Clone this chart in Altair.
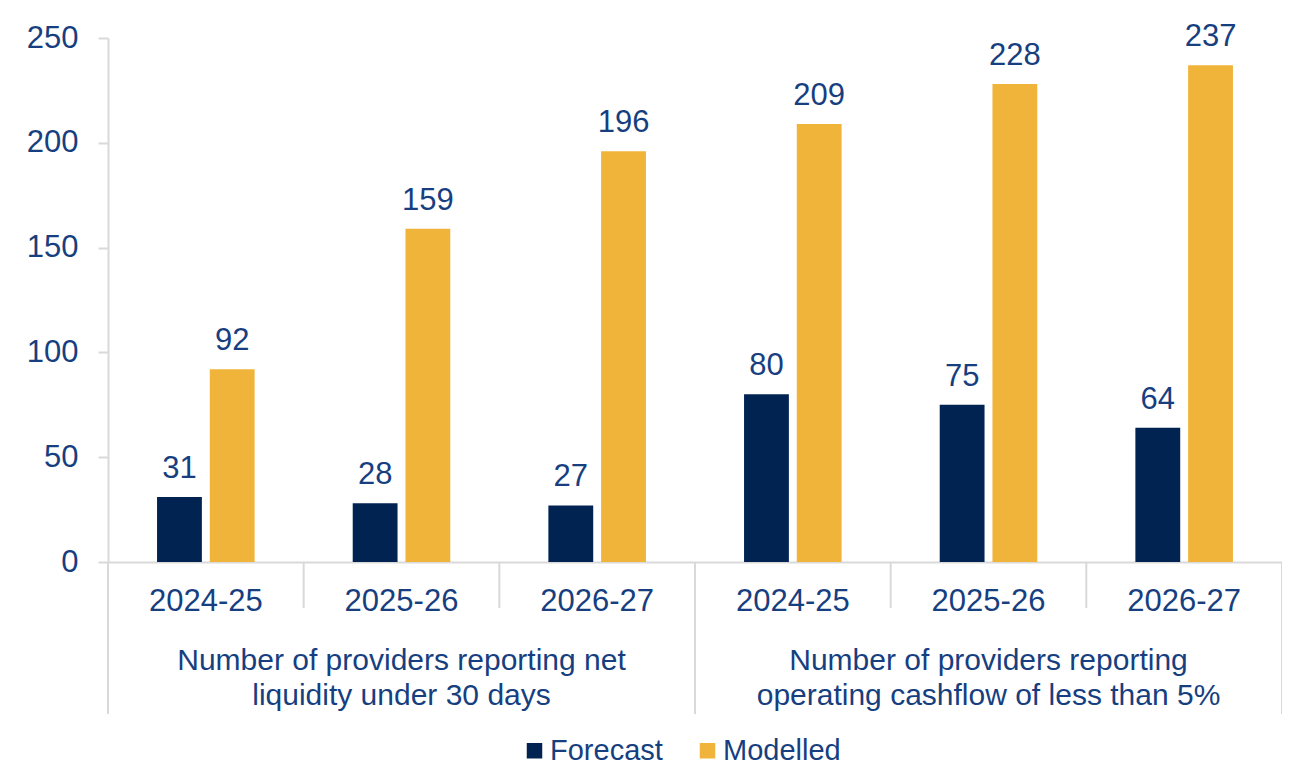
import altair as alt
import pandas as pd

years = ["2024-25", "2025-26", "2026-27", "2024-25", "2025-26", "2026-27"]
groups = ["Number of providers reporting net\nliquidity under 30 days",
          "Number of providers reporting\noperating cashflow of less than 5%"]
group_of_slot = [0, 0, 0, 1, 1, 1]
forecast = [31, 28, 27, 80, 75, 64]
modelled = [92, 159, 196, 209, 228, 237]
series = ["Forecast", "Modelled"]

slots = [f"{i}|{y}" for i, y in enumerate(years)]
rows = []
for i, s in enumerate(slots):
    rows.append({"slot": s, "series": "Forecast", "value": forecast[i]})
    rows.append({"slot": s, "series": "Modelled", "value": modelled[i]})
df = pd.DataFrame(rows)

sep_df = pd.DataFrame({"slot": slots,
                       "long": [1 if i == 0 or group_of_slot[i] != group_of_slot[i - 1] else 0
                                for i in range(len(slots))]})
end_df = pd.DataFrame({"slot": [slots[-1]]})
grp_df = pd.DataFrame({"slot": [slots[1], slots[4]], "label": groups})

TXT = "#173F7F"
GRAY = "#D9D9D9"
FONT = "Liberation Sans"
W, H = 1174, 524

xs = alt.X("slot:N", sort=slots, scale=alt.Scale(paddingInner=0, paddingOuter=0),
           axis=alt.Axis(title=None, labelExpr="split(datum.label,'|')[1]", labelAngle=0,
                         ticks=False, labelPadding=24, labelFontSize=31, labelColor=TXT,
                         labelFont=FONT, domainColor=GRAY, domainWidth=2))

base = alt.Chart(df)
bars = base.mark_bar().encode(
    x=xs,
    xOffset=alt.XOffset("series:N", sort=series,
                        scale=alt.Scale(paddingInner=0.15, paddingOuter=0.93)),
    y=alt.Y("value:Q", scale=alt.Scale(domain=[0, 250], nice=False),
            axis=alt.Axis(title=None, values=[0, 50, 100, 150, 200, 250], grid=False,
                          labelFontSize=31, labelColor=TXT, labelFont=FONT, labelPadding=20,
                          tickColor=GRAY, tickSize=10, tickWidth=2, domainColor=GRAY,
                          domainWidth=2)),
    color=alt.Color("series:N", sort=series,
                    scale=alt.Scale(domain=series, range=["#002352", "#F0B43A"]),
                    legend=alt.Legend(title=None, orient="none", direction="horizontal",
                                      legendX=412, legendY=698, symbolType="square",
                                      symbolSize=240, symbolStrokeWidth=0,
                                      labelFontSize=29, labelColor=TXT, labelFont=FONT,
                                      labelOffset=1, columnPadding=30)),
)
labels = base.mark_text(baseline="alphabetic", dy=-19, fontSize=31, color=TXT,
                        font=FONT).encode(
    x=alt.X("slot:N", sort=slots),
    xOffset=alt.XOffset("series:N", sort=series),
    y="value:Q",
    text="value:Q",
)
short_sep = alt.Chart(sep_df).transform_filter("datum.long == 0").mark_rule(
    color=GRAY, strokeWidth=2).encode(
    x=alt.X("slot:N", sort=slots, bandPosition=0),
    y=alt.value(H), y2=alt.value(H + 46))
long_sep = alt.Chart(sep_df).transform_filter("datum.long == 1").mark_rule(
    color=GRAY, strokeWidth=2).encode(
    x=alt.X("slot:N", sort=slots, bandPosition=0),
    y=alt.value(H), y2=alt.value(H + 152))
end_sep = alt.Chart(end_df).mark_rule(color=GRAY, strokeWidth=2).encode(
    x=alt.X("slot:N", sort=slots, bandPosition=1),
    y=alt.value(H), y2=alt.value(H + 152))
grp = alt.Chart(grp_df).mark_text(baseline="top", fontSize=30, color=TXT, font=FONT,
                                  lineBreak="\n", lineHeight=35).encode(
    x=alt.X("slot:N", sort=slots),
    y=alt.value(H + 84),
    text="label:N",
)

chart = alt.layer(bars, labels, short_sep, long_sep, end_sep, grp).properties(
    width=W, height=H,
    autosize=alt.AutoSizeParams(type="none"),
    padding={"left": 100, "top": 30, "right": 0, "bottom": 204},
).configure_view(stroke=None)

chart.save("out.html", embed_options={"renderer": "svg", "actions": False})
